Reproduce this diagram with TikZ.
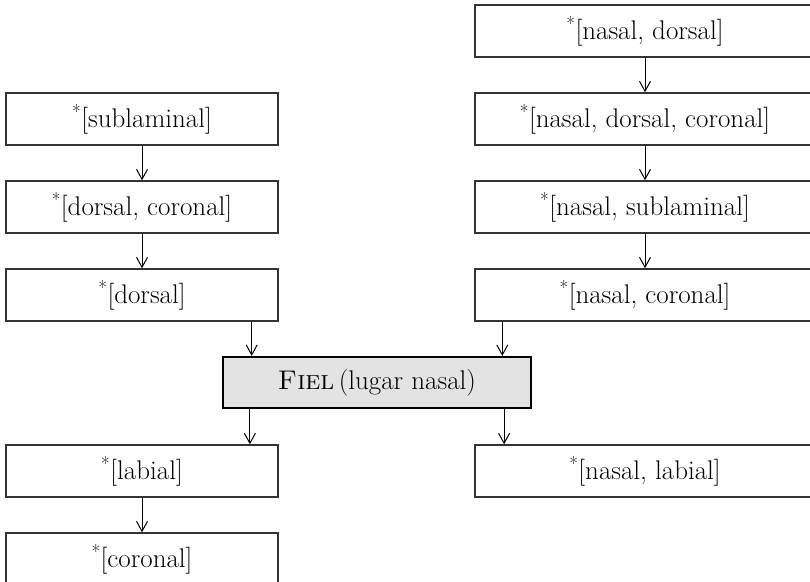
\documentclass[tikz,border=0pt]{standalone}
\usetikzlibrary{arrows.meta,calc}
\begin{document}
\begin{tikzpicture}[x=1pt,y=-1pt,
  txt/.style={font=\fontsize{27}{30}\selectfont},
  box/.style={draw=black!80,line width=1.4pt,inner sep=0pt,minimum height=52pt,txt},
  lbox/.style={box,minimum width=272pt},
  rbox/.style={box,minimum width=340pt},
  fbox/.style={draw=black,line width=2.2pt,fill=black!11,inner sep=0pt,minimum width=308pt,minimum height=51pt,txt},
  arr/.style={draw=black,line width=1pt,-{Straight Barb[length=10pt,width=11pt,line width=1pt]}}]
\useasboundingbox (0,0) rectangle (810,581);
\clip (0,0) rectangle (810,581);
% left column
\node[lbox] (L1) at (142,119) {\textsuperscript{*}[sublaminal]};
\node[lbox] (L2) at (142,207) {\textsuperscript{*}[dorsal, coronal]};
\node[lbox] (L3) at (142,295) {\textsuperscript{*}[dorsal]};
\node[lbox] (L4) at (142,471) {\textsuperscript{*}[labial]};
\node[lbox] (L5) at (142,559) {\textsuperscript{*}[coronal]};
% right column
\node[rbox] (R1) at (645,31) {\textsuperscript{*}[nasal, dorsal]};
\node[rbox] (R2) at (645,119) {\textsuperscript{*}[nasal, dorsal, coronal]};
\node[rbox] (R3) at (645,207) {\textsuperscript{*}[nasal, sublaminal]};
\node[rbox] (R4) at (645,295) {\textsuperscript{*}[nasal, coronal]};
\node[rbox] (R5) at (645,471) {\textsuperscript{*}[nasal, labial]};
% central
\node[fbox] (F) at (377,382.5) {\textsc{Fiel}\,(lugar nasal)};
% arrows
\draw[arr] (L1.south) -- (L2.north);
\draw[arr] (L2.south) -- (L3.north);
\draw[arr] (L4.south) -- (L5.north);
\draw[arr] (R1.south) -- (R2.north);
\draw[arr] (R2.south) -- (R3.north);
\draw[arr] (R3.south) -- (R4.north);
\draw[arr] ([xshift=-27pt]L3.south east) -- ([xshift=-27pt]L3.south east |- F.north);
\draw[arr] ([xshift=28pt]R4.south west) -- ([xshift=28pt]R4.south west |- F.north);
\draw[arr] ([xshift=28pt]F.south west) -- ([xshift=28pt]F.south west |- L4.north);
\draw[arr] ([xshift=-28pt]F.south east) -- ([xshift=-28pt]F.south east |- R5.north);
\end{tikzpicture}
\end{document}
